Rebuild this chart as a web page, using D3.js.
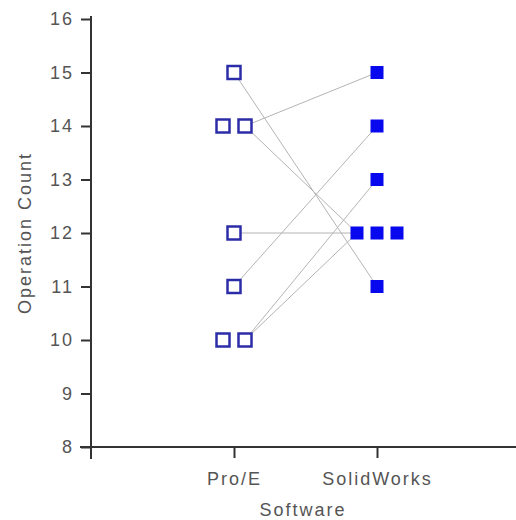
<!DOCTYPE html>
<html>
<head>
<meta charset="utf-8">
<script src="https://cdn.jsdelivr.net/npm/d3@7"></script>
<style>
  body { margin: 0; background: #fff; }
  svg text { font-family: "Liberation Sans", Arial, sans-serif; letter-spacing: 2px; }
</style>
</head>
<body>
<figure id="chart" style="margin:0"></figure>
<script>
// categories on the x axis
const categories = ["Pro/E", "SolidWorks"];
// operation counts, one entry per subject (same order in both arrays)
const proE = [15, 14, 14, 12, 11, 10, 10];
const solidWorks = [11, 15, 12, 12, 14, 13, 12];
const yTicks = [8, 9, 10, 11, 12, 13, 14, 15, 16];

const width = 516, height = 520;

const svg = d3.select("figure#chart")
  .append("svg")
  .attr("width", width)
  .attr("height", height);

// scales
const x = d3.scalePoint()
  .domain(categories)
  .range([91, 520])
  .padding(1);

const y = d3.scaleLinear()
  .domain([8, 16])
  .range([447, 19]);

// spread points that share a value side by side
function layout(values, cat, spacing) {
  const groups = d3.group(values.map((v, i) => ({v, i})), d => d.v);
  const pos = [];
  groups.forEach(g => {
    g.forEach((d, k) => {
      pos[d.i] = {v: d.v, x: x(cat) + (k - (g.length - 1) / 2) * spacing};
    });
  });
  return pos;
}
const ptsA = layout(proE, categories[0], 22);
const ptsB = layout(solidWorks, categories[1], 20);

// line ends at the point of the group nearest the other column
function endA(v) { return d3.max(ptsA.filter(p => p.v === v), p => p.x); }
function endB(v) { return d3.min(ptsB.filter(p => p.v === v), p => p.x); }

// connecting lines
svg.append("g")
  .selectAll("line")
  .data(proE.map((v, i) => [v, solidWorks[i]]))
  .enter()
  .append("line")
  .attr("x1", d => endA(d[0]))
  .attr("y1", d => y(d[0]))
  .attr("x2", d => endB(d[1]))
  .attr("y2", d => y(d[1]))
  .attr("stroke", "#b4b4b4")
  .attr("stroke-width", 1);

// y axis
const yAxis = svg.append("g")
  .attr("transform", "translate(91,0)")
  .call(d3.axisLeft(y).tickValues(yTicks).tickFormat(d3.format("d")).tickSize(10).tickPadding(7));
yAxis.select(".domain").remove();
yAxis.selectAll(".tick line").attr("stroke", "#333").attr("stroke-width", 2);
yAxis.selectAll(".tick text").attr("fill", "#555").style("font-size", "18px");
svg.append("line")
  .attr("x1", 91).attr("x2", 91)
  .attr("y1", y(16) - 3).attr("y2", y(8) + 12)
  .attr("stroke", "#333").attr("stroke-width", 2);

// x axis
const xAxis = svg.append("g")
  .attr("transform", "translate(0," + y(8) + ")")
  .call(d3.axisBottom(x).tickSize(11).tickPadding(14));
xAxis.select(".domain").remove();
xAxis.selectAll(".tick line").attr("stroke", "#333").attr("stroke-width", 2);
xAxis.selectAll(".tick text").attr("fill", "#555").style("font-size", "18px");
svg.append("line")
  .attr("x1", 80).attr("x2", width)
  .attr("y1", y(8)).attr("y2", y(8))
  .attr("stroke", "#333").attr("stroke-width", 2);

// axis titles
svg.append("text")
  .attr("x", 303).attr("y", 516)
  .attr("text-anchor", "middle")
  .attr("fill", "#555")
  .style("font-size", "18px")
  .text("Software");
svg.append("text")
  .attr("transform", "translate(31," + y(12) + ") rotate(-90)")
  .attr("text-anchor", "middle")
  .attr("fill", "#555")
  .style("font-size", "18px")
  .text("Operation Count");

// Pro/E: open squares
svg.append("g")
  .selectAll("rect")
  .data(ptsA)
  .enter()
  .append("rect")
  .attr("x", d => d.x - 6.5)
  .attr("y", d => y(d.v) - 6.5)
  .attr("width", 13)
  .attr("height", 13)
  .attr("fill", "#fff")
  .attr("stroke", "#2c2ca8")
  .attr("stroke-width", 2.5);

// SolidWorks: filled squares
svg.append("g")
  .selectAll("rect")
  .data(ptsB)
  .enter()
  .append("rect")
  .attr("x", d => d.x - 6.5)
  .attr("y", d => y(d.v) - 6.5)
  .attr("width", 13)
  .attr("height", 13)
  .attr("fill", "#0808ee");
</script>
</body>
</html>
